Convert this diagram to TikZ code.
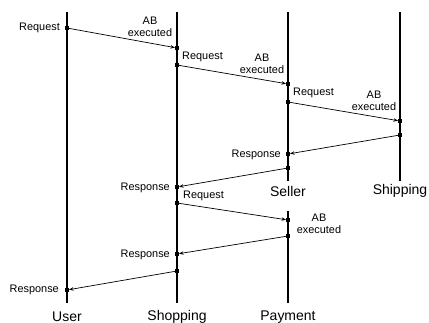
\documentclass[tikz,border=0pt]{standalone}
\usepackage{fontspec}
\setmainfont{Liberation Sans}
\usetikzlibrary{arrows.meta}
\begin{document}
\begin{tikzpicture}[x=1pt,y=-1pt,
  life/.style={line width=2.3pt},
  msg/.style={line width=0.7pt,-{Stealth[length=4.5pt,width=3.5pt]}},
  pt/.style={fill=black,draw=none,rectangle,inner sep=0pt,minimum size=3.6pt},
  lbl/.style={font=\fontsize{10.9}{12}\selectfont,inner sep=0pt},
  ab/.style={lbl,align=center},
  ttl/.style={font=\fontsize{14}{16}\selectfont,inner sep=0pt}]
\useasboundingbox (0,0) rectangle (429,322);

% lifelines
\coordinate (userT) at (67,12);   \coordinate (userB) at (67,303);
\coordinate (shopT) at (177,12);  \coordinate (shopB) at (177,303);
\coordinate (sellT) at (288,12);  \coordinate (sellB) at (288,181);
\coordinate (shipT) at (400,12);  \coordinate (shipB) at (400,181);
\coordinate (payT)  at (288,211); \coordinate (payB)  at (288,303);
\draw[life] (userT) -- (userB);
\draw[life] (shopT) -- (shopB);
\draw[life] (sellT) -- (sellB);
\draw[life] (shipT) -- (shipB);
\draw[life] (payT) -- (payB);

% participant names
\node[ttl] (nUser) at (67,317) {User};
\node[ttl] (nShop) at (177,317) {Shopping};
\node[ttl] (nPay)  at (288,317) {Payment};
\node[ttl] (nSell) at (288,191) {Seller};
\node[ttl] (nShip) at (400,191) {Shipping};

% message end points
\node[pt] (m1s) at (67,28) {};   \node[pt] (m1e) at (177,48) {};
\node[pt] (m2s) at (177,65) {};  \node[pt] (m2e) at (288,84) {};
\node[pt] (m3s) at (288,102) {}; \node[pt] (m3e) at (400,121) {};
\node[pt] (m4s) at (400,135) {}; \node[pt] (m4e) at (288,154) {};
\node[pt] (m5s) at (288,168) {}; \node[pt] (m5e) at (177,187) {};
\node[pt] (m6s) at (177,203) {}; \node[pt] (m6e) at (288,220) {};
\node[pt] (m7s) at (288,236) {}; \node[pt] (m7e) at (177,254) {};
\node[pt] (m8s) at (177,271) {}; \node[pt] (m8e) at (67,290) {};

% messages
\foreach \m in {1,...,8}
  \draw[msg] (m\m s.center) -- (m\m e);

% message labels
\node[lbl,anchor=east] (l1) at (60,28) {Request};
\node[ab] (a1) at (150,27) {AB\\executed};
\node[lbl,anchor=west] (l2) at (182,57) {Request};
\node[ab] (a2) at (262,64) {AB\\executed};
\node[lbl,anchor=west] (l3) at (293,93) {Request};
\node[ab] (a3) at (374,101) {AB\\executed};
\node[lbl,anchor=east] (l4) at (281,155) {Response};
\node[lbl,anchor=east] (l5) at (170,188) {Response};
\node[lbl,anchor=west] (l6) at (183,196) {Request};
\node[ab] (a6) at (319,224) {AB\\executed};
\node[lbl,anchor=east] (l7) at (170,255) {Response};
\node[lbl,anchor=east] (l8) at (59,290) {Response};
\end{tikzpicture}
\end{document}
